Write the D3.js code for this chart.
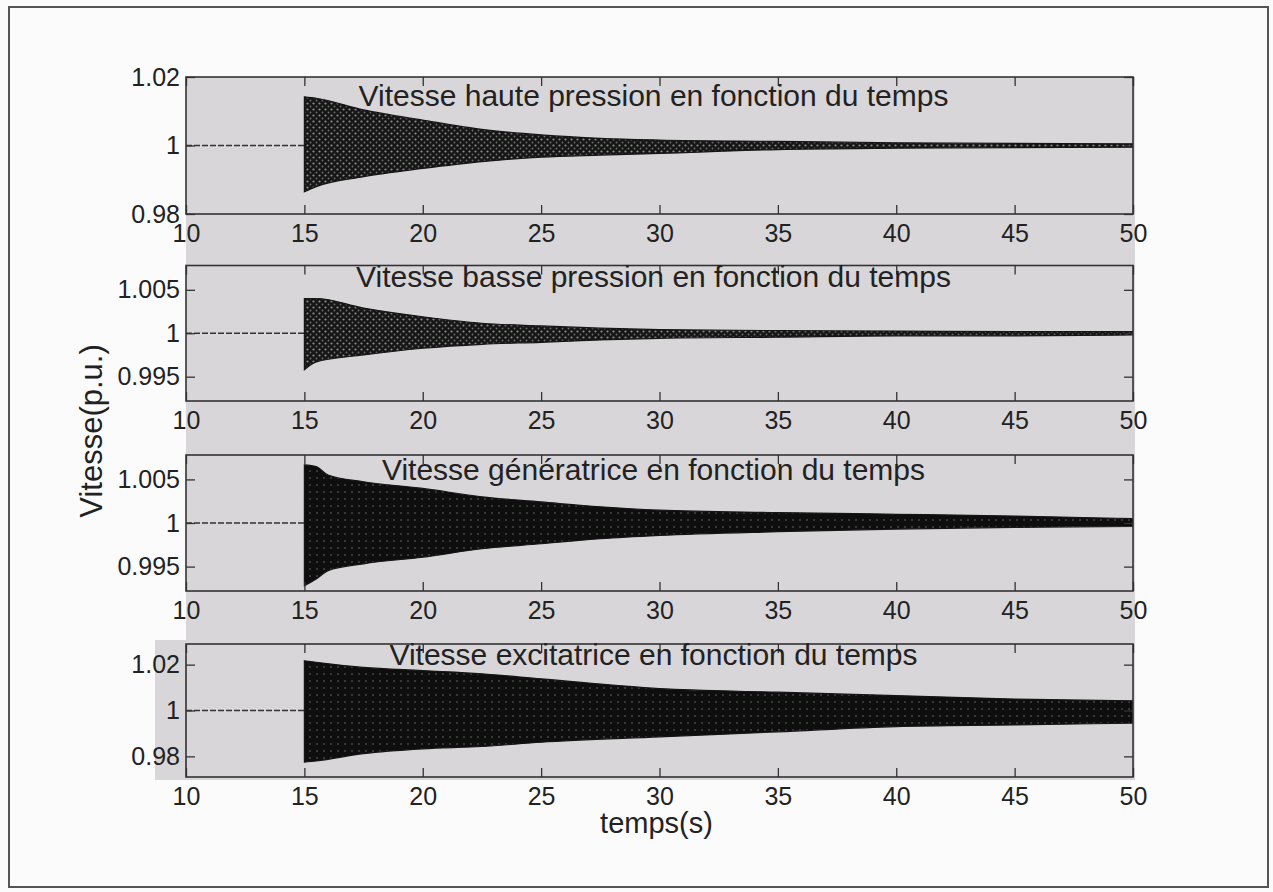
<!DOCTYPE html>
<html>
<head>
<meta charset="utf-8">
<script src="https://cdn.jsdelivr.net/npm/d3@7"></script>
<style>
  html, body { margin: 0; padding: 0; background: #fbfbfb; }
  svg { display: block; }
  text { font-family: "Liberation Sans", Arial, sans-serif; fill: #222; }
</style>
</head>
<body>
<svg id="chart" width="1273" height="892"></svg>
<script>
// ---------------- DATA ----------------
const xTickValues = [10, 15, 20, 25, 30, 35, 40, 45, 50];
const panelTitles = [
  "Vitesse haute pression en fonction du temps",
  "Vitesse basse pression en fonction du temps",
  "Vitesse génératrice en fonction du temps",
  "Vitesse excitatrice en fonction du temps"
];
const yDomains = [[0.98, 1.02], [0.9922, 1.0078], [0.9922, 1.0078], [0.971, 1.029]];
const yTickValues = [[0.98, 1, 1.02], [0.995, 1, 1.005], [0.995, 1, 1.005], [0.98, 1, 1.02]];
const yTickLabels = [["0.98", "1", "1.02"], ["0.995", "1", "1.005"], ["0.995", "1", "1.005"], ["0.98", "1", "1.02"]];
const xLabel = "temps(s)";
const yLabel = "Vitesse(p.u.)";

// steady state before the disturbance
const preTime = [10, 15];
const preSpeed = [1, 1];

// oscillation envelopes (upper / lower)
const timeHP  = [15, 15.5, 17.5, 20, 22.5, 25, 27.5, 30, 35, 40, 45, 50];
const upperHP = [1.0142, 1.0138, 1.0104, 1.0074, 1.0047, 1.0031, 1.0021, 1.0016, 1.0012, 1.0008, 1.0006, 1.0005];
const lowerHP = [0.9865, 0.9880, 0.9909, 0.9933, 0.9953, 0.9966, 0.9972, 0.9977, 0.9988, 0.9992, 0.9994, 0.9995];

const timeBP  = [15, 15.5, 17.5, 20, 22.5, 25, 27.5, 30, 35, 40, 45, 50];
const upperBP = [1.0040, 1.0040, 1.0029, 1.0019, 1.00115, 1.00084, 1.00058, 1.00042, 1.0003, 1.00025, 1.0002, 1.0002];
const lowerBP = [0.9958, 0.9967, 0.9975, 0.99827, 0.99873, 0.99896, 0.99923, 0.99942, 0.99955, 0.9997, 0.9997, 0.9998];

const timeGen  = [15, 15.5, 16, 17.5, 20, 22.5, 25, 27.5, 30, 35, 40, 45, 50];
const upperGen = [1.00666, 1.00646, 1.0055, 1.00473, 1.00397, 1.0030, 1.00242, 1.00185, 1.00147, 1.0012, 1.0010, 1.0008, 1.0005];
const lowerGen = [0.99281, 0.99358, 0.99454, 0.99532, 0.99608, 0.99705, 0.99762, 0.9982, 0.99858, 0.9990, 0.9993, 0.9995, 0.9996];

const timeExc  = [15, 15.5, 17.5, 20, 22.5, 25, 30, 35, 40, 45, 50];
const upperExc = [1.0217, 1.0210, 1.0188, 1.0174, 1.0160, 1.0138, 1.0095, 1.0080, 1.0065, 1.0050, 1.0042];
const lowerExc = [0.9775, 0.9780, 0.9812, 0.9833, 0.9843, 0.9862, 0.9885, 0.9907, 0.9930, 0.9937, 0.9945];

// ---------------- LAYOUT ----------------
const svg = d3.select("#chart");
const W = 1273, H = 892;
const left = 186, right = 1133;
const panelTops = [77, 265.5, 455, 644];
const panelHeights = [137, 135.5, 136, 133];
const titleOffsets = [29, 21.5, 25, 21];
const envelopes = [
  { t: timeHP, hi: upperHP, lo: lowerHP, fill: "url(#spkLight)" },
  { t: timeBP, hi: upperBP, lo: lowerBP, fill: "url(#spkLight)" },
  { t: timeGen, hi: upperGen, lo: lowerGen, fill: "url(#spkDark)" },
  { t: timeExc, hi: upperExc, lo: lowerExc, fill: "url(#spkDark)" }
];

// background & frame
svg.append("rect").attr("x", 0).attr("y", 0).attr("width", W).attr("height", H).attr("fill", "#fbfbfb");

const defs = svg.append("defs");
const p1 = defs.append("pattern").attr("id", "spkLight").attr("patternUnits", "userSpaceOnUse")
  .attr("width", 6).attr("height", 6);
p1.append("rect").attr("width", 6).attr("height", 6).attr("fill", "#161616");
p1.append("circle").attr("cx", 1.5).attr("cy", 1.5).attr("r", 1.1).attr("fill", "#8c8c8c");
p1.append("circle").attr("cx", 4.5).attr("cy", 4.5).attr("r", 0.9).attr("fill", "#6e6e6e");
const p2 = defs.append("pattern").attr("id", "spkDark").attr("patternUnits", "userSpaceOnUse")
  .attr("width", 7).attr("height", 7);
p2.append("rect").attr("width", 7).attr("height", 7).attr("fill", "#0e0e0e");
p2.append("circle").attr("cx", 2).attr("cy", 2).attr("r", 0.8).attr("fill", "#6a6a6a");

// grey figure area
const grey = "#d9d6d9";
svg.append("rect").attr("x", left).attr("y", panelTops[0]).attr("width", right - left + 2)
  .attr("height", 780 - panelTops[0]).attr("fill", grey);
svg.append("rect").attr("x", 155).attr("y", 640).attr("width", left - 155 + 1).attr("height", 140).attr("fill", grey);

// outer frame
svg.append("rect").attr("x", 9).attr("y", 7).attr("width", 1259).attr("height", 880)
  .attr("fill", "none").attr("stroke", "#555").attr("stroke-width", 2);

const x = d3.scaleLinear().domain([10, 50]).range([left, right]);

panelTitles.forEach((title, i) => {
  const top = panelTops[i], h = panelHeights[i];
  const y = d3.scaleLinear().domain(yDomains[i]).range([top + h, top]);
  const g = svg.append("g");

  // clip
  const clipId = "clip" + i;
  defs.append("clipPath").attr("id", clipId).append("rect")
    .attr("x", left).attr("y", top).attr("width", right - left).attr("height", h);

  const plot = g.append("g").attr("clip-path", `url(#${clipId})`);

  // steady-state line
  const pre = preTime.map((t, k) => [t, preSpeed[k]]);
  plot.append("path").datum(pre)
    .attr("d", d3.line().x(d => x(d[0])).y(d => y(d[1])))
    .attr("fill", "none").attr("stroke", "#333").attr("stroke-width", 1.5)
    .attr("stroke-dasharray", "6,2");

  // oscillation envelope
  const env = envelopes[i];
  const pts = env.t.map((t, k) => ({ t, hi: env.hi[k], lo: env.lo[k] }));
  plot.append("path").datum(pts)
    .attr("d", d3.area().curve(d3.curveMonotoneX)
      .x(d => x(d.t)).y0(d => y(d.lo)).y1(d => y(d.hi)))
    .attr("fill", env.fill).attr("stroke", "#151515").attr("stroke-width", 1.2);

  // axes
  const tickLen = 9;
  const axB = d3.axisBottom(x).tickValues(xTickValues).tickFormat(d3.format("d"))
    .tickSizeInner(-tickLen).tickSizeOuter(0).tickPadding(10);
  const axT = d3.axisTop(x).tickValues(xTickValues).tickFormat("")
    .tickSizeInner(-tickLen).tickSizeOuter(0);
  const axL = d3.axisLeft(y).tickValues(yTickValues[i]).tickFormat((d, k) => yTickLabels[i][k])
    .tickSizeInner(-tickLen).tickSizeOuter(0).tickPadding(6);
  const axR = d3.axisRight(y).tickValues(yTickValues[i]).tickFormat("")
    .tickSizeInner(-tickLen).tickSizeOuter(0);

  const styleAxis = sel => {
    sel.select(".domain").remove();
    sel.selectAll(".tick line").attr("stroke", "#333").attr("stroke-width", 1.3);
    sel.selectAll(".tick text").attr("font-size", 25)
      .attr("font-family", "Liberation Sans, Arial, sans-serif").attr("fill", "#222");
  };
  g.append("g").attr("transform", `translate(0,${top + h})`).call(axB).call(styleAxis);
  g.append("g").attr("transform", `translate(0,${top})`).call(axT).call(styleAxis);
  g.append("g").attr("transform", `translate(${left},0)`).call(axL).call(styleAxis);
  g.append("g").attr("transform", `translate(${right},0)`).call(axR).call(styleAxis);

  // box
  g.append("rect").attr("x", left).attr("y", top).attr("width", right - left).attr("height", h)
    .attr("fill", "none").attr("stroke", "#333").attr("stroke-width", 1.6);

  // title
  g.append("text").attr("x", (left + right) / 2 - 6).attr("y", top + titleOffsets[i])
    .attr("text-anchor", "middle").attr("font-size", 30).text(title);
});

// axis labels
svg.append("text").attr("x", (left + right) / 2 - 3).attr("y", 833)
  .attr("text-anchor", "middle").attr("font-size", 29).text(xLabel);
svg.append("text").attr("transform", "translate(102,431) rotate(-90)")
  .attr("text-anchor", "middle").attr("font-size", 31).text(yLabel);
</script>
</body>
</html>
